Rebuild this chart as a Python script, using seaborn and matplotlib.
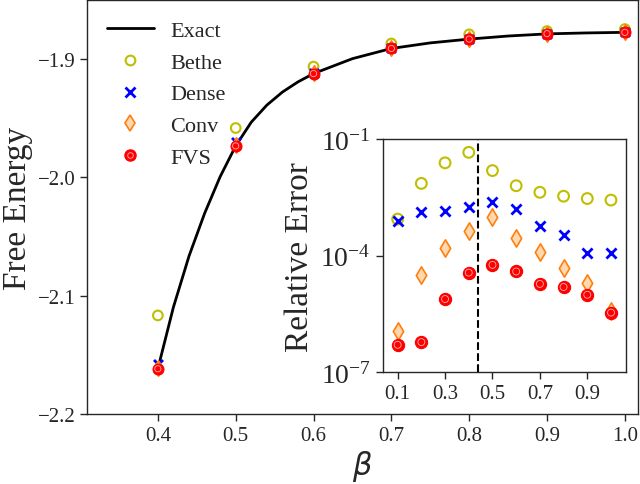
import numpy as np
import pandas as pd
import matplotlib
matplotlib.use("Agg")
import matplotlib.pyplot as plt
import seaborn as sns
from matplotlib.lines import Line2D

# ---------------- data ----------------
beta_exact = [0.40, 0.42, 0.44, 0.46, 0.48, 0.50, 0.52, 0.54, 0.56, 0.58, 0.60,
              0.65, 0.70, 0.75, 0.80, 0.85, 0.90, 0.95, 1.00]
f_exact = [-2.1617, -2.1097, -2.0667, -2.0307, -1.9997, -1.9737, -1.9537,
           -1.9393, -1.9283, -1.9197, -1.9127, -1.9001, -1.8915, -1.8868,
           -1.8836, -1.8810, -1.8792, -1.8784, -1.8779]

beta_pts = [0.4, 0.5, 0.6, 0.7, 0.8, 0.9, 1.0]
f_bethe = [-2.1167, -1.9586, -1.9068, -1.8873, -1.8796, -1.8768, -1.8751]
f_dense = [-2.1578, -1.9700, -1.9120, -1.8912, -1.8832, -1.8789, -1.8778]
f_conv = [-2.1612, -1.9733, -1.9126, -1.8915, -1.8835, -1.8790, -1.8779]
f_fvs = [-2.1617, -1.9737, -1.9127, -1.8915, -1.8836, -1.8790, -1.8779]

beta_err = [0.1, 0.2, 0.3, 0.4, 0.5, 0.6, 0.7, 0.8, 0.9, 1.0]
log_err_bethe = [-3.06, -2.14, -1.61, -1.34, -1.81, -2.20, -2.37, -2.47, -2.53, -2.57]
log_err_dense = [-3.10, -2.87, -2.85, -2.76, -2.62, -2.80, -3.25, -3.46, -3.94, -3.94]
log_err_conv = [-5.95, -4.51, -3.81, -3.37, -3.01, -3.55, -3.92, -4.31, -4.71, -5.44]
log_err_fvs = [-6.30, -6.23, -5.12, -4.44, -4.24, -4.41, -4.73, -4.81, -5.01, -5.47]
beta_critical = 0.4407

main_xticks = [0.4, 0.5, 0.6, 0.7, 0.8, 0.9, 1.0]
main_yticks = [-2.2, -2.1, -2.0, -1.9]
inset_xticks = [0.1, 0.3, 0.5, 0.7, 0.9]
inset_yticks = [1e-7, 1e-4, 1e-1]

# ---------------- style ----------------
sns.set_style("ticks")
plt.rcParams["font.family"] = ["Liberation Serif", "DejaVu Sans"]
plt.rcParams["mathtext.fontset"] = "dejavusans"
plt.rcParams["axes.linewidth"] = 1.0

C_BETHE = "#bfbf00"
C_DENSE = "#0000ff"
C_CONV = "#ff7f0e"
C_CONV_FACE = "#ffd8b0"
C_FVS = "#ff0000"
C_FVS_RING = "#ffb0b0"


def pts(b, v):
    return pd.DataFrame({"x": b, "y": v})


def draw_markers(axis, xs, bethe, dense, conv, fvs, scale=1.0):
    sns.scatterplot(data=pts(xs, bethe), x="x", y="y", ax=axis, marker="o",
                    s=48 * scale, facecolors="none", edgecolor=C_BETHE,
                    linewidth=1.5, zorder=3)
    sns.scatterplot(data=pts(xs, dense), x="x", y="y", ax=axis, marker="x",
                    s=42 * scale, color=C_DENSE, linewidth=2, zorder=3)
    sns.scatterplot(data=pts(xs, conv), x="x", y="y", ax=axis, marker="d",
                    s=62 * scale, facecolors=C_CONV_FACE, edgecolor=C_CONV,
                    linewidth=1.2, zorder=3)
    sns.scatterplot(data=pts(xs, fvs), x="x", y="y", ax=axis, marker="o",
                    s=62 * scale, color=C_FVS, edgecolor=C_FVS, linewidth=0.8,
                    zorder=4)
    sns.scatterplot(data=pts(xs, fvs), x="x", y="y", ax=axis, marker="o",
                    s=20 * scale, facecolors="none", edgecolor=C_FVS_RING,
                    linewidth=0.6, zorder=5)


fig = plt.figure(figsize=(6.4, 4.85), dpi=100)
ax = fig.add_axes([0.136, 0.144, 0.861, 0.853])

df_exact = pd.DataFrame({"beta": beta_exact, "f": f_exact})
sns.lineplot(data=df_exact, x="beta", y="f", ax=ax, color="black", lw=2,
             legend=False)
draw_markers(ax, beta_pts, f_bethe, f_dense, f_conv, f_fvs)

ax.set_xlim(0.309, 1.017)
ax.set_ylim(-2.2, -1.851)
ax.set_xticks(main_xticks)
ax.set_xticklabels([f"{v:.1f}" for v in main_xticks])
ax.set_yticks(main_yticks)
ax.set_yticklabels([f"\u2212{abs(v):.1f}" for v in main_yticks])
ax.tick_params(labelsize=15, length=5, width=1)
ax.set_xlabel(r"$\beta$", fontsize=22, labelpad=2)
ax.set_ylabel("Free Energy", fontsize=24)
ax.yaxis.set_label_coords(-0.098, 0.5)

handles = [
    Line2D([], [], color="black", lw=2),
    Line2D([], [], ls="none", marker="o", ms=7, mfc="none", mec=C_BETHE, mew=1.5),
    Line2D([], [], ls="none", marker="x", ms=6.5, color=C_DENSE, mew=2),
    Line2D([], [], ls="none", marker="d", ms=8, mfc=C_CONV_FACE, mec=C_CONV, mew=1.2),
    (Line2D([], [], ls="none", marker="o", ms=8, color=C_FVS, mec=C_FVS),
     Line2D([], [], ls="none", marker="o", ms=4, mfc="none", mec=C_FVS_RING, mew=0.6)),
]
ax.legend(handles, ["Exact", "Bethe", "Dense", "Conv", "FVS"], loc="upper left",
          frameon=False, fontsize=16, handlelength=2.1, handletextpad=0.75,
          labelspacing=0.5, borderaxespad=0.5)

# ---------------- inset ----------------
ins = fig.add_axes([0.598, 0.231, 0.380, 0.480])
ins.set_yscale("log")
err_bethe = [10 ** v for v in log_err_bethe]
err_dense = [10 ** v for v in log_err_dense]
err_conv = [10 ** v for v in log_err_conv]
err_fvs = [10 ** v for v in log_err_fvs]
draw_markers(ins, beta_err, err_bethe, err_dense, err_conv, err_fvs, scale=1.25)
ins.axvline(beta_critical, color="black", ls="--", lw=1.5)
ins.set_xlim(0.037, 1.063)
ins.set_ylim(1e-7, 1e-1)
ins.set_xticks(inset_xticks)
ins.set_xticklabels([f"{v:.1f}" for v in inset_xticks])
ins.set_yticks(inset_yticks)
ins.minorticks_off()
ins.tick_params(labelsize=15, length=5, width=1)
ins.tick_params(axis="y", labelsize=20)
ins.set_xlabel("")
ins.set_ylabel("Relative Error", fontsize=24, labelpad=4)

fig.savefig("out.png", dpi=100)
